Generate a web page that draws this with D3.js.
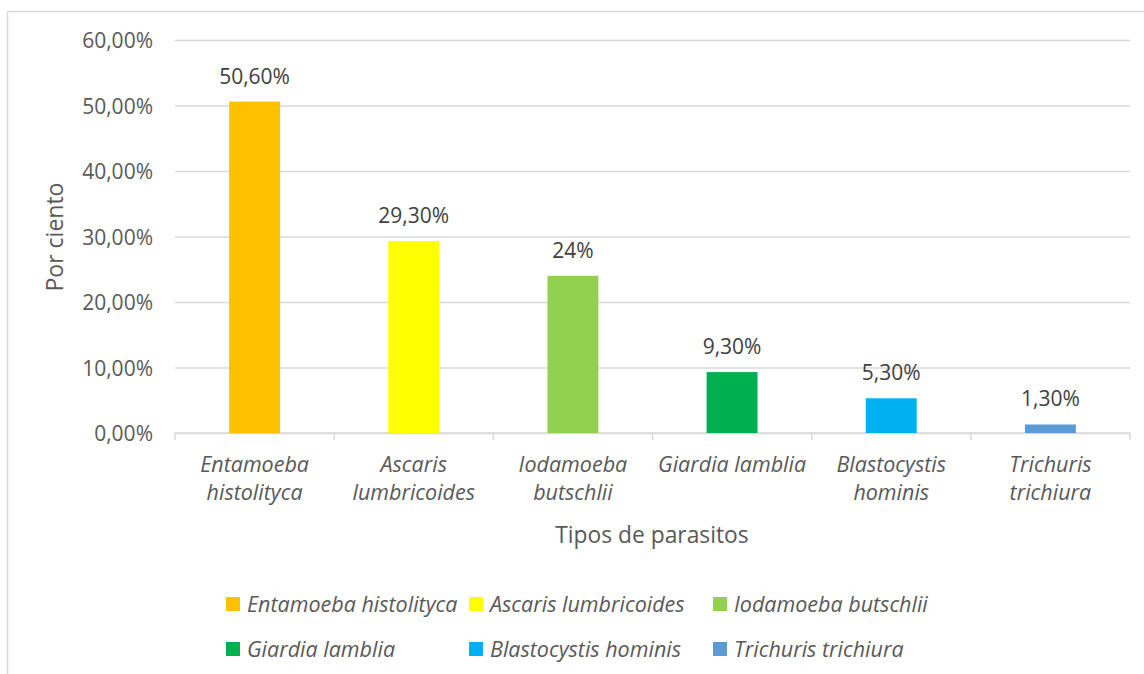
<!DOCTYPE html>
<html>
<head>
<meta charset="utf-8">
<script src="https://cdn.jsdelivr.net/npm/d3@7"></script>
<style>
  html, body { margin: 0; padding: 0; background: #fff; }
  text { font-family: "Open Sans", sans-serif; }
</style>
</head>
<body>
<div id="chart"></div>
<script>
// data
const categories = ["Entamoeba histolityca", "Ascaris lumbricoides", "Iodamoeba butschlii",
                    "Giardia lamblia", "Blastocystis hominis", "Trichuris trichiura"];
const labelLines = [["Entamoeba", "histolityca"], ["Ascaris", "lumbricoides"], ["Iodamoeba", "butschlii"],
                    ["Giardia lamblia"], ["Blastocystis", "hominis"], ["Trichuris", "trichiura"]];
const values = [50.6, 29.3, 24, 9.3, 5.3, 1.3];
const valueLabels = ["50,60%", "29,30%", "24%", "9,30%", "5,30%", "1,30%"];
const yTicks = [0, 10, 20, 30, 40, 50, 60];
const colors = ["#FFC000", "#FFFF00", "#92D050", "#00B050", "#00B0F0", "#5B9BD5"];

// ----------------------------------------------------------

const width  = 1144;
const height = 674;
const margin = {top: 40, bottom: 241, left: 175, right: 14};

const svg = d3.select("#chart")
    .append("svg")
    .attr("width",  width)
    .attr("height", height)

// chart border (runs off the right and bottom edges)
svg.append("rect")
    .attr("x", 7.5).attr("y", 11.5)
    .attr("width", width + 10).attr("height", height + 10)
    .attr("fill", "none")
    .attr("stroke", "#d9d9d9")
    .attr("stroke-width", 1.5)

const innerW = width - margin.left - margin.right
const innerH = height - margin.top - margin.bottom

var x = d3.scaleBand().domain(categories).range([0, innerW]).paddingInner(0.68).paddingOuter(0.34)
var xb = d3.scaleBand().domain(categories).range([0, innerW])
var y = d3.scaleLinear().domain([0, 60]).range([innerH, 0])

const g = svg.append("g")
    .attr("transform", `translate(${margin.left}, ${margin.top})`)

// gridlines + y labels
const yAxis = d3.axisLeft(y).tickValues(yTicks).tickSize(-innerW).tickPadding(22)
    .tickFormat(d => d3.format(".2f")(d).replace(".", ",") + "%")
const yAxisGroup = g.append("g").call(yAxis)
yAxisGroup.select(".domain").remove()
yAxisGroup.selectAll(".tick line").attr("stroke", "#d9d9d9").attr("stroke-width", 1.5)
yAxisGroup.selectAll(".tick text")
    .attr("font-size", 21)
    .attr("fill", "#595959")
    .attr("dy", "0.36em")

// x axis line with ticks at band boundaries
const xAxisGroup = g.append("g").attr("transform", `translate(0, ${innerH})`)
xAxisGroup.append("line")
    .attr("x1", 0).attr("x2", innerW)
    .attr("stroke", "#d9d9d9").attr("stroke-width", 1.5)
xAxisGroup.selectAll("line.tk")
    .data(categories.map(c => xb(c)).concat([innerW]))
    .join("line")
    .attr("class", "tk")
    .attr("x1", d => d).attr("x2", d => d)
    .attr("y1", 0).attr("y2", 7)
    .attr("stroke", "#d9d9d9").attr("stroke-width", 1.5)

// category labels
const catLabels = xAxisGroup.selectAll("text.cat")
    .data(categories)
    .join("text")
    .attr("class", "cat")
    .attr("x", d => xb(d) + xb.bandwidth() / 2)
    .attr("y", 39)
    .attr("text-anchor", "middle")
    .attr("font-size", 21.5)
    .attr("font-style", "italic")
    .attr("fill", "#595959")
catLabels.selectAll("tspan")
    .data((d, i) => labelLines[i])
    .join("tspan")
    .attr("x", function() { return d3.select(this.parentNode).attr("x") })
    .attr("dy", (d, i) => i === 0 ? 0 : 28)
    .text(d => d)

// bars
g.selectAll("rect.bar")
    .data(values)
    .join("rect")
    .attr("class", "bar")
    .attr("x", (d, i) => x(categories[i]))
    .attr("y", d => y(d))
    .attr("width", x.bandwidth())
    .attr("height", d => innerH - y(d))
    .attr("fill", (d, i) => colors[i])

// value labels
g.selectAll("text.val")
    .data(values)
    .join("text")
    .attr("class", "val")
    .attr("x", (d, i) => x(categories[i]) + x.bandwidth() / 2)
    .attr("y", d => y(d) - 18)
    .attr("text-anchor", "middle")
    .attr("font-size", 21)
    .attr("fill", "#404040")
    .text((d, i) => valueLabels[i])

// axis titles
svg.append("text")
    .attr("x", 652)
    .attr("y", 543)
    .attr("text-anchor", "middle")
    .attr("font-size", 22.8)
    .attr("fill", "#595959")
    .text("Tipos de parasitos")

svg.append("text")
    .attr("transform", `translate(63, 237) rotate(-90)`)
    .attr("text-anchor", "middle")
    .attr("font-size", 23)
    .attr("fill", "#595959")
    .text("Por ciento")

// legend
const legendX = [226, 469, 713]
const legendY = [604, 649]
const legend = svg.selectAll("g.leg")
    .data(categories)
    .join("g")
    .attr("class", "leg")
    .attr("transform", (d, i) => `translate(${legendX[i % 3]}, ${legendY[Math.floor(i / 3)]})`)
legend.append("rect")
    .attr("x", 0).attr("y", -7)
    .attr("width", 14).attr("height", 14)
    .attr("fill", (d, i) => colors[i])
legend.append("text")
    .attr("x", 21)
    .attr("dy", "0.35em")
    .attr("font-size", 21.5)
    .attr("font-style", "italic")
    .attr("fill", "#595959")
    .text(d => d)
</script>
</body>
</html>
